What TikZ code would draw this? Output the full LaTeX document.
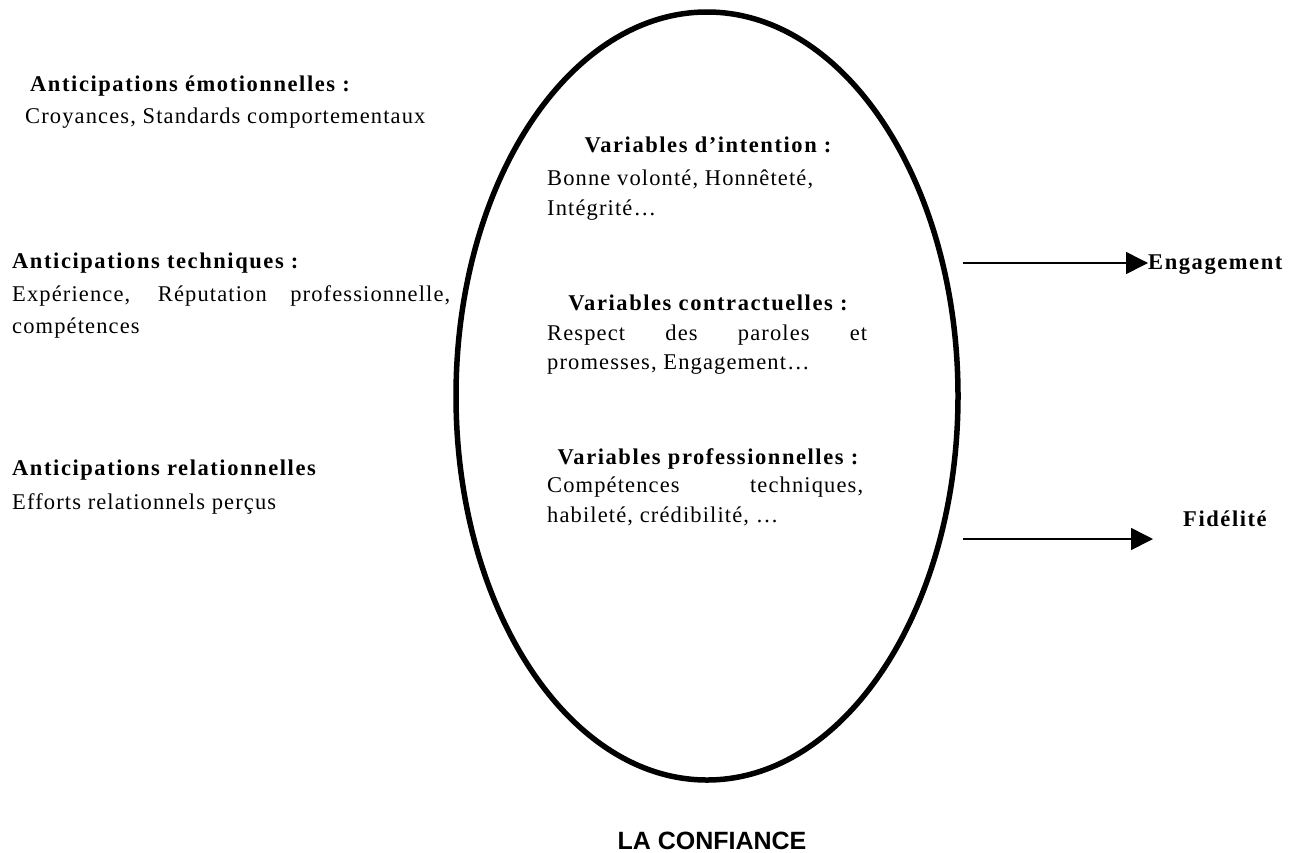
\documentclass[tikz,border=0pt]{standalone}
\usepackage{fontspec}
\setmainfont{Liberation Serif}[LetterSpace=5]
\newfontfamily\headfont{Liberation Serif}[LetterSpace=7]
\newfontfamily\titlefont{Liberation Sans}
\usepackage{tikz}
\usetikzlibrary{arrows.meta,calc,positioning,shapes.geometric}

\begin{document}
\begin{tikzpicture}[x=1pt,y=-1pt,
	head/.style={inner sep=0pt,anchor=base west,font=\headfont\bfseries\fontsize{22.5}{31}\selectfont},
	body/.style={inner sep=0pt,anchor=base west,font=\fontsize{22.5}{31}\selectfont},
	arr/.style={line width=1.5pt,-{Triangle[length=22pt,width=22pt]}}]
			\useasboundingbox (0,0) rectangle (1292,852);
			% la confiance
			\node[draw,ellipse,line width=5.5pt,minimum width=502pt,minimum height=768pt,inner sep=0pt] (conf) at (707,396) {};
			\node[inner sep=0pt,anchor=base,font=\titlefont\bfseries\fontsize{25}{30}\selectfont] (confT) at (712,849) {LA CONFIANCE};
			% anticipations
			\node[head] (emoH) at (30,91) {Anticipations émotionnelles :};
			\node[body] (emoB) at (25,123) {Croyances, Standards comportementaux};
			\node[head] (tecH) at (12,268) {Anticipations techniques :};
			\node[body] (tecB) at (12,301) {\makebox[438pt][s]{Expérience, Réputation professionnelle,}};
			\node[body] (tecC) at (12,333) {compétences};
			\node[head] (relH) at (12,475) {Anticipations relationnelles};
			\node[body] (relB) at (12,509) {Efforts relationnels perçus};
			% variables
			\node[head,anchor=base] (intH) at (708,152) {Variables d’intention :};
			\node[body] (intB) at (547,185) {Bonne volonté, Honnêteté,};
			\node[body] (intC) at (547,215) {Intégrité…};
			\node[head,anchor=base] (conH) at (708,310) {Variables contractuelles :};
			\node[body] (conB) at (547,340) {\makebox[320pt][s]{Respect des paroles et}};
			\node[body] (conC) at (547,369) {promesses, Engagement…};
			\node[head,anchor=base] (proH) at (708,464) {Variables professionnelles :};
			\node[body] (proB) at (547,492) {\makebox[316pt][s]{Compétences techniques,}};
			\node[body] (proC) at (547,522) {habileté, crédibilité, …};
			% effets
			\node[head] (eng) at (1148,269) {Engagement};
			\node[head] (fid) at (1183,526) {Fidélité};
			\coordinate (engS) at (963,263);
			\coordinate (fidS) at (963,539);
			\coordinate (fidE) at (1153,539);
			\draw[arr] (engS) to (engS -| eng.west);
			\draw[arr] (fidS) to (fidE);
\end{tikzpicture}
\end{document}
